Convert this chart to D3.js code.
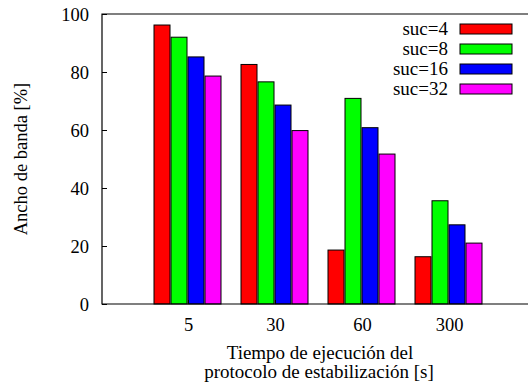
<!DOCTYPE html>
<html>
<head>
<meta charset="utf-8">
<script src="https://cdn.jsdelivr.net/npm/d3@7"></script>
<style>
  body { margin: 0; background: #fff; }
  svg { display: block; }
</style>
</head>
<body>
<div></div>
<script>
const WIDTH = 528;
const HEIGHT = 385;

// datos
const categories = ["5", "30", "60", "300"];
const seriesNames = ["suc=4", "suc=8", "suc=16", "suc=32"];
const colors = ["#ff0000", "#00ff00", "#0000ff", "#ff00ff"];
const suc4 = [96.2, 82.6, 18.6, 16.3];
const suc8 = [92.0, 76.6, 70.9, 35.6];
const suc16 = [85.2, 68.6, 60.8, 27.3];
const suc32 = [78.6, 59.8, 51.7, 21.0];
const yTicks = [0, 20, 40, 60, 80, 100];

const series = [suc4, suc8, suc16, suc32];

const PL = 102, PT = 14, PR = 530, PB = 304;
const FONT = "Liberation Serif";

const svg = d3.select("div").append("svg")
  .attr("width", WIDTH)
  .attr("height", HEIGHT)
  .attr("font-family", FONT);

const y = d3.scaleLinear().domain([0, 100]).range([PB, PT]);
// posicion de cada grupo (estilo histograma de gnuplot)
const x = d3.scaleLinear().domain([-1, 3]).range([101, 449]);
const BAR_WIDTH = 17;

// barras
series.forEach((vals, s) => {
  svg.append("g").selectAll("rect")
    .data(vals)
    .enter()
    .append("rect")
    .attr("x", (d, i) => x(i) + (s - 2) * BAR_WIDTH)
    .attr("y", d => y(d))
    .attr("width", BAR_WIDTH - 1)
    .attr("height", d => y(0) - y(d))
    .style("fill", colors[s])
    .style("stroke", "#000")
    .style("stroke-width", 1);
});

// marco
svg.append("path")
  .attr("d", `M${PR},${PT}H${PL}V${PB}H${PR}`)
  .style("fill", "none")
  .style("stroke", "#000")
  .style("stroke-width", 1.2);

// eje y
const yAxis = d3.axisLeft(y).tickValues(yTicks).tickSize(-5).tickPadding(13);
const gy = svg.append("g").attr("transform", `translate(${PL},0)`).call(yAxis)
  .attr("font-family", FONT).attr("font-size", 18.5);
gy.select(".domain").remove();
gy.selectAll("text").attr("dy", "0.35em");

// eje x
const xAxis = d3.axisBottom(x).tickValues([0, 1, 2, 3])
  .tickFormat(i => categories[i]).tickSize(-4).tickPadding(14);
const gx = svg.append("g").attr("transform", `translate(0,${PB})`).call(xAxis)
  .attr("font-family", FONT).attr("font-size", 18.5);
gx.select(".domain").remove();

// titulos
svg.append("text")
  .attr("transform", "translate(27,159) rotate(-90)")
  .attr("text-anchor", "middle")
  .attr("font-size", 18.5)
  .text("Ancho de banda [%]");

svg.append("text")
  .attr("x", 320).attr("y", 359)
  .attr("text-anchor", "middle")
  .attr("font-size", 19)
  .text("Tiempo de ejecución del");

svg.append("text")
  .attr("x", 319).attr("y", 378)
  .attr("text-anchor", "middle")
  .attr("font-size", 19)
  .text("protocolo de estabilización [s]");

// leyenda
const legend = svg.append("g");
seriesNames.forEach((name, s) => {
  const ly = 29 + s * 20;
  legend.append("text")
    .attr("x", 448).attr("y", ly + 6)
    .attr("text-anchor", "end")
    .attr("font-size", 19)
    .text(name);
  legend.append("rect")
    .attr("x", 460).attr("y", ly - 5)
    .attr("width", 52).attr("height", 10)
    .style("fill", colors[s])
    .style("stroke", "#000")
    .style("stroke-width", 1);
});
</script>
</body>
</html>
